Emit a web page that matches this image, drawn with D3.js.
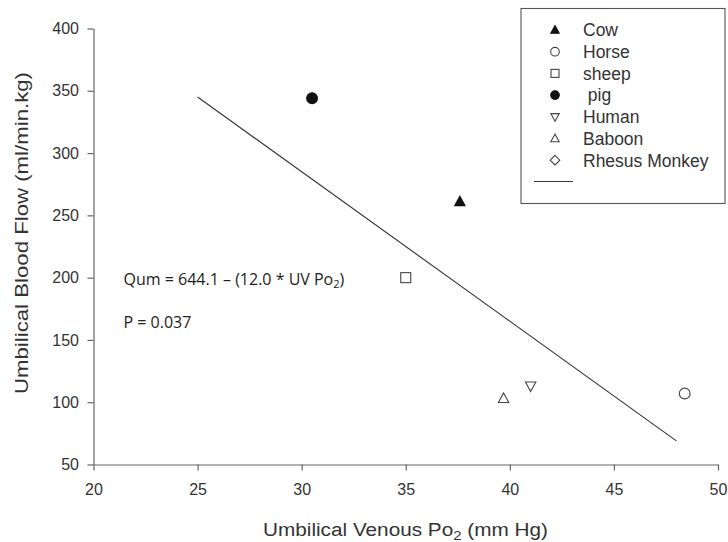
<!DOCTYPE html>
<html><head><meta charset="utf-8">
<script src="https://cdn.jsdelivr.net/npm/d3@7"></script>
<style>body{margin:0;background:#fff}svg{display:block}</style>
</head><body><svg id="c" width="728" height="542"></svg>
<script>
const species = ["Cow","Horse","sheep","pig","Human","Baboon","Rhesus Monkey"];
const poValues = [37.6, 48.4, 35.0, 30.5, 41.0, 39.7, null];
const flowValues = [261, 107, 200, 344, 113, 103, null];
const symbols = ["triUp","circle","square","circle","triDown","triUp","diamond"];
const filled = [true,false,false,true,false,false,false];
const legendLabels = ["Cow","Horse","sheep"," pig","Human","Baboon","Rhesus Monkey"];
const fitX = [25, 48];
const fitY = [345, 69];
const xTicks = [20,25,30,35,40,45,50];
const yTicks = [50,100,150,200,250,300,350,400];

const svg = d3.select("#c");
const x = d3.scaleLinear().domain([20,50]).range([93.5,718]);
const y = d3.scaleLinear().domain([50,400]).range([464.5,28.5]);
const font = "'Liberation Sans', Arial, sans-serif";
const annFont = "'Open Sans', 'Noto Sans', sans-serif";

function sym(g, type, fill, k) {
  let p;
  if (type==="circle") p = g.append("circle").attr("r", 5.4*k);
  else if (type==="square") p = g.append("rect").attr("x",-5*k).attr("y",-5*k).attr("width",10*k).attr("height",10*k);
  else if (type==="triUp") p = g.append("path").attr("d",`M0,${-5.5*k}L${5.2*k},${4*k}L${-5.2*k},${4*k}Z`);
  else if (type==="triDown") p = g.append("path").attr("d",`M0,${5.5*k}L${5.2*k},${-4*k}L${-5.2*k},${-4*k}Z`);
  else p = g.append("path").attr("d",`M0,${-6*k}L${6*k},0L0,${6*k}L${-6*k},0Z`);
  p.attr("fill", fill ? "#111" : "#fff").attr("stroke", fill?"#111":"#444").attr("stroke-width",1.1);
}

// axes
const xa = svg.append("g").attr("transform","translate(0,464.5)")
  .call(d3.axisBottom(x).tickValues(xTicks).tickSize(6).tickSizeOuter(0).tickPadding(13.5));
const ya = svg.append("g").attr("transform","translate(93.5,0)")
  .call(d3.axisLeft(y).tickValues(yTicks).tickSize(6).tickSizeOuter(0).tickPadding(8.5));
[xa,ya].forEach(a=>{
  a.selectAll("path,line").attr("stroke","#666").attr("stroke-width",1.2);
  a.selectAll("text").attr("font-family",font).attr("font-size",16).attr("fill","#333");
});

// fit line
svg.append("line").attr("x1",x(fitX[0])).attr("y1",y(fitY[0])).attr("x2",x(fitX[1])).attr("y2",y(fitY[1]))
  .attr("stroke","#333").attr("stroke-width",1.1);

// points
species.forEach((s,i)=>{
  if (poValues[i]==null) return;
  const g = svg.append("g").attr("transform",`translate(${x(poValues[i])},${y(flowValues[i])})`);
  sym(g, symbols[i], filled[i], 1);
});

// annotations
const ann = svg.append("text").attr("x",123.5).attr("y",285).attr("font-family",annFont).attr("font-size",16).attr("fill","#222");
ann.append("tspan").text("Qum = 644.1 – (12.0 * UV Po");
ann.append("tspan").attr("font-size",11).attr("dy",3).text("2");
ann.append("tspan").attr("dy",-3).text(")");
svg.append("text").attr("x",123.5).attr("y",328).attr("font-family",annFont).attr("font-size",16).attr("fill","#222").text("P = 0.037");

// axis titles
const xt = svg.append("text").attr("x",263).attr("y",536).attr("textLength",285).attr("lengthAdjust","spacingAndGlyphs")
  .attr("font-family",font).attr("font-size",18).attr("fill","#333");
xt.append("tspan").text("Umbilical Venous Po");
xt.append("tspan").attr("font-size",13).attr("dy",4).text("2");
xt.append("tspan").attr("dy",-4).text(" (mm Hg)");
svg.append("text").attr("transform","translate(28,394) rotate(-90)").attr("x",0).attr("y",0)
  .attr("textLength",322).attr("lengthAdjust","spacingAndGlyphs")
  .attr("font-family",font).attr("font-size",18).attr("fill","#333").text("Umbilical Blood Flow (ml/min.kg)");

// legend
svg.append("rect").attr("x",521).attr("y",8.5).attr("width",204).attr("height",195).attr("fill","#fff").attr("stroke","#555").attr("stroke-width",1.1);
legendLabels.forEach((l,i)=>{
  const yy = 30 + i*21.7;
  const g = svg.append("g").attr("transform",`translate(555,${yy})`);
  sym(g, symbols[i], filled[i], 0.8);
  svg.append("text").attr("x",583).attr("y",yy+6.3).attr("font-family",font).attr("font-size",17.5).attr("fill","#333").style("white-space","pre").text(l);
});
svg.append("line").attr("x1",534).attr("x2",573).attr("y1",181.5).attr("y2",181.5).attr("stroke","#333").attr("stroke-width",1.1);
</script></body></html>
